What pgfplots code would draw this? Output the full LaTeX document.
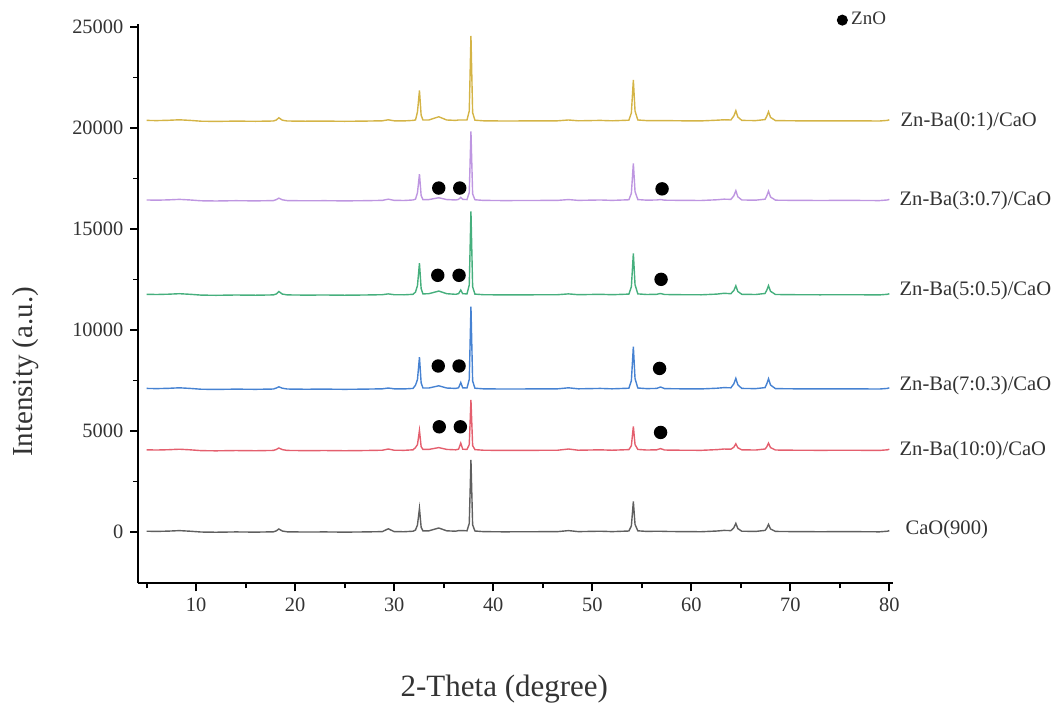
\documentclass[border=0pt]{standalone}
\usepackage{fontspec}
\setmainfont{Liberation Serif}
\usepackage{pgfplots}
\pgfplotsset{compat=1.18}
\definecolor{cgold}{RGB}{212,180,70}
\definecolor{cpurple}{RGB}{190,150,225}
\definecolor{cgreen}{RGB}{70,175,125}
\definecolor{cblue}{RGB}{70,130,210}
\definecolor{cred}{RGB}{228,95,110}
\definecolor{cgray}{RGB}{95,95,95}
\begin{document}
\begin{tikzpicture}
\begin{axis}[
  scale only axis,
  width=377.35pt, height=279.65pt,
  xmin=4.16, xmax=80.37, ymin=-2540, ymax=25150,
  axis x line*=bottom, axis y line*=left,
  axis line style={black, line width=0.9pt},
  xtick={10,20,...,80}, minor xtick={5,15,...,75},
  ytick={0,5000,...,25000}, minor ytick={2500,7500,...,22500},
  tick align=outside,
  major tick length=4pt, minor tick length=2.5pt,
  tick style={black, line width=0.9pt},
  scaled y ticks=false,
  /pgf/number format/1000 sep={},
  /pgf/number format/assume math mode=true,
  ticklabel style={font=\fontsize{10.2}{12}\selectfont, text=black!80},
  xlabel={2-Theta (degree)},
  ylabel={Intensity (a.u.)},
  xlabel style={at={(axis description cs:0.485,-0.19)}, anchor=center, font=\fontsize{15.5}{18}\selectfont, text=black!80},
  ylabel style={at={(axis description cs:-0.150,0.378)}, anchor=center, rotate=0, font=\fontsize{14.5}{17}\selectfont, text=black!80},
  clip=false,
  legend style={draw=none, fill=none, at={(axis description cs:0.926,1.007)}, anchor=west, inner sep=0pt, font=\fontsize{9.5}{10}\selectfont, text=black!80},
  legend image code/.code={\draw[#1, mark size=2.4pt] plot coordinates {(0cm,0cm)};},
  every axis plot/.append style={line width=0.7pt},
]
\addplot[only marks, mark=*, mark size=3.0pt, black] coordinates {
 (34.5,17030) (36.62,17030) (57.05,16990)
 (34.4,12710) (36.55,12710) (56.95,12510)
 (34.45,8220) (36.55,8220) (56.8,8100)
 (34.55,5210) (36.68,5210) (56.9,4930)
};
\addlegendentry{ZnO}
% CaO(900)
\addplot[cgray, forget plot] coordinates {
(5.0,40)(6.0,30)(7.2,45)(8.3,70)(9.4,40)(10.5,0)(12,-10)(14,5)(16,-5)(17.8,10)(18.1,60)(18.35,150)(18.7,50)(19.2,10)(21,0)(23,5)(25,-5)(27,5)(28.8,20)(29.4,160)(30.0,20)(31.0,15)(31.9,40)(32.15,100)(32.35,350)(32.55,1170)(32.72,234)(32.9,60)(33.5,60)(34.5,200)(35.3,60)(36.2,40)(36.5,70)(36.72,70)(36.92,70)(37.35,60)(37.58,428)(37.75,3570)(37.92,357)(38.15,50)(39,20)(41,10)(44,15)(46.5,20)(47.6,70)(48.6,20)(50.8,40)(52,20)(53.7,50)(53.95,302)(54.15,1510)(54.32,378)(54.6,60)(55.5,30)(56.5,40)(56.9,40)(57.3,30)(59,20)(61,15)(62.6,50)(63.3,80)(64.0,70)(64.3,215)(64.5,430)(64.7,172)(65.1,40)(66.5,30)(67.45,80)(67.62,190)(67.8,380)(68.0,152)(68.5,30)(70.5,20)(73,15)(76,20)(79.0,10)(79.8,40)(80,70)
};
% Zn-Ba(10:0)
\addplot[cred, forget plot] coordinates {
(5.0,4070)(6.0,4060)(7.2,4075)(8.3,4100)(9.4,4070)(10.5,4030)(12,4020)(14,4035)(16,4025)(17.8,4040)(18.1,4090)(18.35,4160)(18.7,4080)(19.2,4040)(21,4030)(23,4035)(25,4025)(27,4035)(28.8,4050)(29.4,4110)(30.0,4050)(31.0,4045)(31.9,4070)(32.15,4180)(32.35,4330)(32.55,5030)(32.72,4230)(32.9,4090)(33.5,4090)(34.5,4180)(35.3,4090)(36.2,4070)(36.5,4100)(36.72,4400)(36.92,4100)(37.35,4090)(37.58,4330)(37.75,6540)(37.92,4280)(38.15,4080)(39,4050)(41,4040)(44,4045)(46.5,4050)(47.6,4110)(48.6,4050)(50.8,4070)(52,4050)(53.7,4080)(53.95,4270)(54.15,5230)(54.32,4330)(54.6,4090)(55.5,4060)(56.5,4070)(56.9,4130)(57.3,4060)(59,4050)(61,4045)(62.6,4080)(63.3,4110)(64.0,4100)(64.3,4200)(64.5,4370)(64.7,4170)(65.1,4070)(66.5,4060)(67.45,4110)(67.62,4215)(67.8,4400)(68.0,4180)(68.5,4060)(70.5,4050)(73,4045)(76,4050)(79.0,4040)(79.8,4070)(80,4100)
};
% Zn-Ba(7:0.3)
\addplot[cblue, forget plot] coordinates {
(5.0,7110)(6.0,7100)(7.2,7115)(8.3,7140)(9.4,7110)(10.5,7070)(12,7060)(14,7075)(16,7065)(17.8,7080)(18.1,7130)(18.35,7190)(18.7,7120)(19.2,7080)(21,7070)(23,7075)(25,7065)(27,7075)(28.8,7090)(29.4,7130)(30.0,7090)(31.0,7085)(31.9,7110)(32.15,7270)(32.35,7550)(32.55,8660)(32.72,7390)(32.9,7130)(33.5,7130)(34.5,7240)(35.3,7130)(36.2,7110)(36.5,7140)(36.72,7400)(36.92,7140)(37.35,7130)(37.58,7560)(37.75,11160)(37.92,7480)(38.15,7120)(39,7090)(41,7080)(44,7085)(46.5,7090)(47.6,7140)(48.6,7090)(50.8,7110)(52,7090)(53.7,7120)(53.95,7490)(54.15,9180)(54.32,7600)(54.6,7130)(55.5,7100)(56.5,7110)(56.9,7180)(57.3,7100)(59,7090)(61,7085)(62.6,7120)(63.3,7150)(64.0,7140)(64.3,7340)(64.5,7610)(64.7,7290)(65.1,7110)(66.5,7100)(67.45,7150)(67.62,7330)(67.8,7590)(68.0,7280)(68.5,7100)(70.5,7090)(73,7085)(76,7090)(79.0,7080)(79.8,7110)(80,7140)
};
% Zn-Ba(5:0.5)
\addplot[cgreen, forget plot] coordinates {
(5.0,11770)(6.0,11760)(7.2,11775)(8.3,11800)(9.4,11770)(10.5,11730)(12,11720)(14,11735)(16,11725)(17.8,11740)(18.1,11790)(18.35,11910)(18.7,11780)(19.2,11740)(21,11730)(23,11735)(25,11725)(27,11735)(28.8,11750)(29.4,11790)(30.0,11750)(31.0,11745)(31.9,11770)(32.15,11880)(32.35,12200)(32.55,13310)(32.72,12050)(32.9,11790)(33.5,11800)(34.5,11930)(35.3,11800)(36.2,11770)(36.5,11800)(36.72,11980)(36.92,11800)(37.35,11790)(37.58,12230)(37.75,15870)(37.92,12140)(38.15,11780)(39,11750)(41,11740)(44,11745)(46.5,11750)(47.6,11790)(48.6,11750)(50.8,11770)(52,11750)(53.7,11780)(53.95,12140)(54.15,13800)(54.32,12250)(54.6,11790)(55.5,11760)(56.5,11770)(56.9,11810)(57.3,11760)(59,11750)(61,11745)(62.6,11780)(63.3,11820)(64.0,11800)(64.3,11960)(64.5,12190)(64.7,11910)(65.1,11770)(66.5,11760)(67.45,11810)(67.62,11970)(67.8,12200)(68.0,11920)(68.5,11760)(70.5,11750)(73,11745)(76,11750)(79.0,11740)(79.8,11770)(80,11800)
};
% Zn-Ba(3:0.7)
\addplot[cpurple, forget plot] coordinates {
(5.0,16440)(6.0,16430)(7.2,16445)(8.3,16470)(9.4,16440)(10.5,16400)(12,16390)(14,16405)(16,16395)(17.8,16410)(18.1,16460)(18.35,16530)(18.7,16450)(19.2,16410)(21,16400)(23,16405)(25,16395)(27,16405)(28.8,16420)(29.4,16480)(30.0,16420)(31.0,16415)(31.9,16440)(32.15,16480)(32.35,16800)(32.55,17720)(32.72,16660)(32.9,16460)(33.5,16460)(34.5,16550)(35.3,16460)(36.2,16440)(36.5,16470)(36.72,16570)(36.92,16470)(37.35,16460)(37.58,16810)(37.75,19830)(37.92,16740)(38.15,16450)(39,16420)(41,16410)(44,16415)(46.5,16420)(47.6,16460)(48.6,16420)(50.8,16440)(52,16420)(53.7,16450)(53.95,16770)(54.15,18250)(54.32,16860)(54.6,16460)(55.5,16430)(56.5,16440)(56.9,16460)(57.3,16430)(59,16420)(61,16415)(62.6,16450)(63.3,16480)(64.0,16470)(64.3,16650)(64.5,16900)(64.7,16600)(65.1,16440)(66.5,16430)(67.45,16480)(67.62,16640)(67.8,16880)(68.0,16590)(68.5,16430)(70.5,16420)(73,16415)(76,16420)(79.0,16410)(79.8,16440)(80,16470)
};
% Zn-Ba(0:1)
\addplot[cgold, forget plot] coordinates {
(5.0,20380)(6.0,20370)(7.2,20385)(8.3,20410)(9.4,20380)(10.5,20340)(12,20330)(14,20345)(16,20335)(17.8,20350)(18.1,20400)(18.35,20510)(18.7,20390)(19.2,20350)(21,20340)(23,20345)(25,20335)(27,20345)(28.8,20360)(29.4,20410)(30.0,20360)(31.0,20355)(31.9,20380)(32.15,20400)(32.35,20800)(32.55,21860)(32.72,20640)(32.9,20400)(33.5,20400)(34.5,20560)(35.3,20400)(36.2,20380)(36.5,20400)(36.72,20400)(36.92,20400)(37.35,20400)(37.58,20850)(37.75,24560)(37.92,20760)(38.15,20390)(39,20360)(41,20350)(44,20355)(46.5,20360)(47.6,20400)(48.6,20360)(50.8,20380)(52,20360)(53.7,20390)(53.95,20750)(54.15,22380)(54.32,20850)(54.6,20400)(55.5,20370)(56.5,20370)(56.9,20370)(57.3,20370)(59,20360)(61,20355)(62.6,20390)(63.3,20410)(64.0,20400)(64.3,20600)(64.5,20860)(64.7,20550)(65.1,20380)(66.5,20370)(67.45,20420)(67.62,20580)(67.8,20810)(68.0,20530)(68.5,20370)(70.5,20360)(73,20355)(76,20360)(79.0,20350)(79.8,20380)(80,20410)
};
\begin{scope}[every node/.style={anchor=west, inner sep=0pt, font=\fontsize{10.3}{12}\selectfont, text=black!80}]
\node at (axis cs:81.1,20300) {Zn-Ba(0:1)/CaO};
\node at (axis cs:81.0,16390) {Zn-Ba(3:0.7)/CaO};
\node at (axis cs:81.0,11980) {Zn-Ba(5:0.5)/CaO};
\node at (axis cs:81.0,7230) {Zn-Ba(7:0.3)/CaO};
\node at (axis cs:81.0,4010) {Zn-Ba(10:0)/CaO};
\node at (axis cs:81.6,100) {CaO(900)};
\end{scope}
\path (rel axis cs:-0.1833,-0.2176) rectangle (rel axis cs:1.216,1.043);
\end{axis}
\end{tikzpicture}
\end{document}
